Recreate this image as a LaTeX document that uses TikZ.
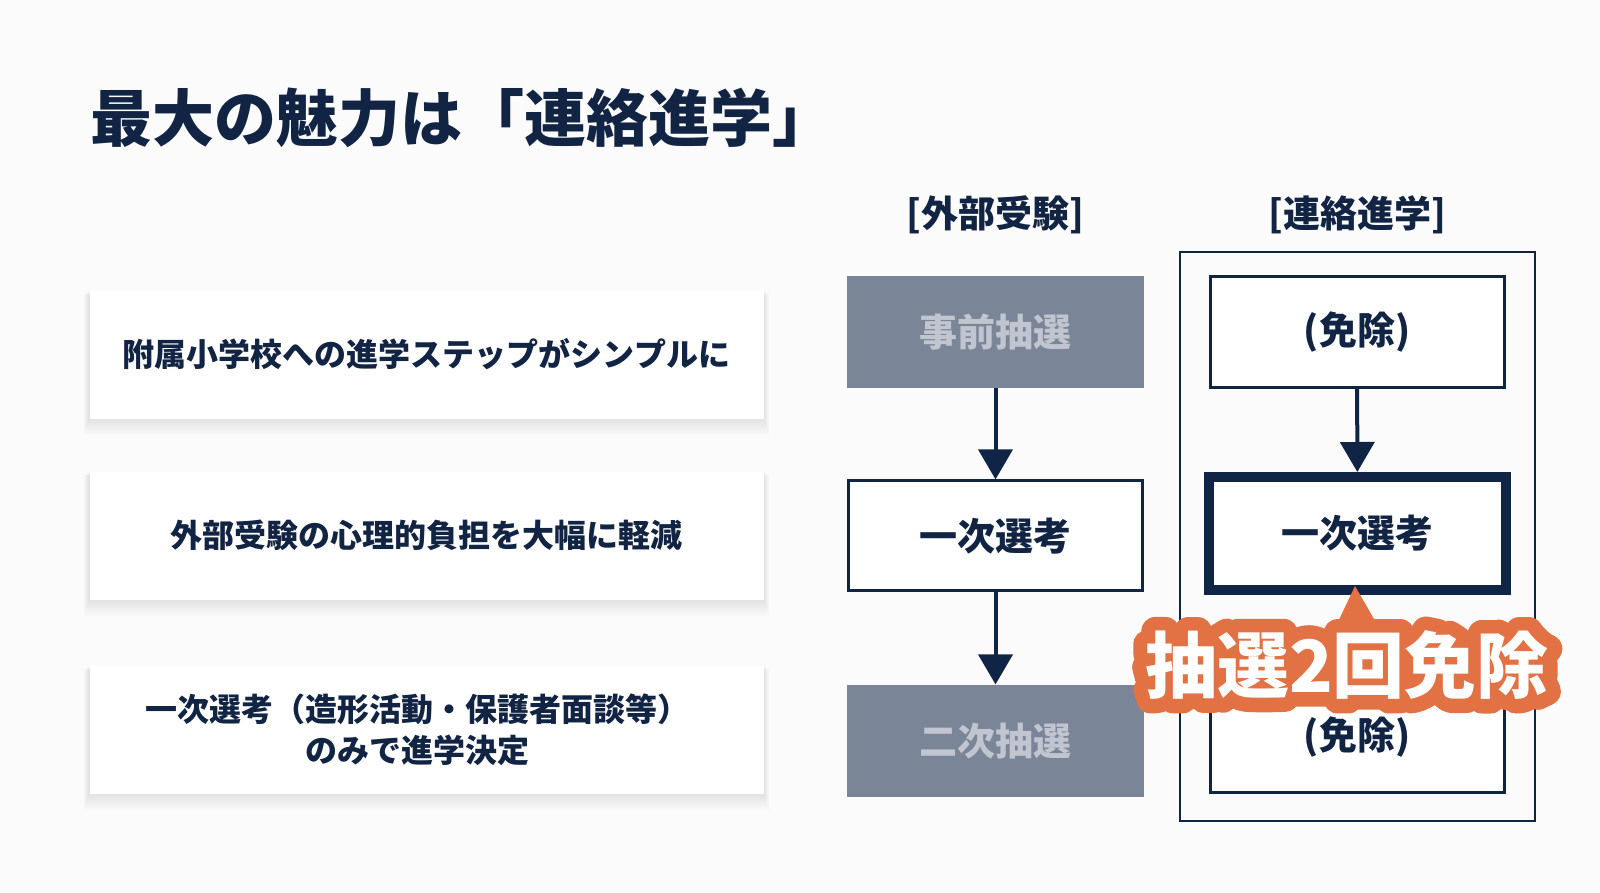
\documentclass[tikz,border=0pt]{standalone}
\usepackage{fontspec}
\setmainfont{Noto Sans CJK JP}
\usetikzlibrary{arrows.meta, positioning, backgrounds, calc}
\definecolor{navyText}{RGB}{18,36,68}
\definecolor{navyLine}{RGB}{16,36,70}
\definecolor{slateFill}{RGB}{123,133,152}
\definecolor{slateText}{RGB}{192,197,207}
\definecolor{badgeOrange}{RGB}{226,114,68}
\definecolor{pageGray}{RGB}{251,251,251}
\newcommand{\outlinetext}{\special{pdf:literal direct 1 j 1 J 14 w 2 Tr}}

\begin{document}
\begin{tikzpicture}[x=0.5pt, y=-0.5pt, font=\bfseries, text=navyText]
    \tikzset{
        point/.style={rectangle, fill=white, minimum width=337pt, minimum height=64pt, align=center, font=\fontsize{16}{20.5}\selectfont\bfseries},
        stage/.style={rectangle, draw=navyLine, line width=1.5pt, fill=white, minimum width=147pt, minimum height=55pt, font=\fontsize{19}{23}\selectfont\bfseries},
        lottery/.style={rectangle, fill=slateFill, text=slateText, minimum width=148.5pt, minimum height=56pt, font=\fontsize{19}{23}\selectfont\bfseries},
        head/.style={font=\fontsize{18.5}{22}\selectfont\bfseries},
        badgetext/.style={inner sep=0pt, font=\fontsize{36}{40}\selectfont\bfseries},
        arrow/.style={draw=navyLine, line width=2pt, -{Triangle[width=17pt, length=15pt]}}
    }
    \useasboundingbox (0,0) rectangle (1600,893);

    % title
    \node [anchor=west, inner sep=0pt, font=\fontsize{31}{36}\selectfont\bfseries] (title) at (90,118) {最大の魅力は「連絡進学」};

    % left: points
    \node [point] (p1) at (426.5,354.5) {附属小学校への進学ステップがシンプルに};
    \node [point] (p2) at (426.5,535.5) {外部受験の心理的負担を大幅に軽減};
    \node [point] (p3) at (426.5,729.5) {一次選考（造形活動・保護者面談等）\hspace*{9pt}\\のみで進学決定\hspace*{9pt}};

    % external exam flow
    \node [head] (hExt) at (995,215) {[外部受験]};
    \node [lottery] (pre) at (995.5,332) {事前抽選};
    \node [stage, below=45.5pt of pre] (first) {一次選考};
    \node [lottery, below=46pt of first] (second) {二次抽選};

    % internal promotion flow
    \node [head] (hLink) at (1357,215) {[連絡進学]};
    \draw [navyLine, line width=1.3pt] (1180,252) rectangle (1535,821);
    \node [stage] (exempt1) at (1357,332) {(免除)};
    \node [stage, line width=5pt, minimum width=148.5pt, minimum height=56.5pt] (firstL) at (1357.5,533.5) {一次選考};
    \node [stage] (exempt2) at (1357,737.5) {(免除)};

    \draw [arrow] (pre) -- (first);
    \draw [arrow] (first) -- (second);
    \draw [arrow] (exempt1) -- (firstL);

    % badge
    \fill [badgeOrange] (1336,626) -- (1355,586) -- (1378,626) -- cycle;
    \fill [badgeOrange, rounded corners=8pt] (1152,632) rectangle (1542,700);
    \node [badgetext, text=badgeOrange] (badgeRim) at (1347,665) {\outlinetext 抽選2回免除};
    \node [badgetext, text=white] (badge) at (1347,665) {抽選2回免除};

    % page and soft shadows
    \begin{scope}[on background layer]
        \fill [pageGray] (0,0) rectangle (1600,893);
        \foreach \n in {p1,p2,p3}
            \foreach \s in {2,4,...,16}
                \fill [black, opacity=0.012] ($(\n.south west)+(-\s/3,\s)$) rectangle ($(\n.north east)+(\s/3,\s*0.3)$);
    \end{scope}
\end{tikzpicture}
\end{document}
